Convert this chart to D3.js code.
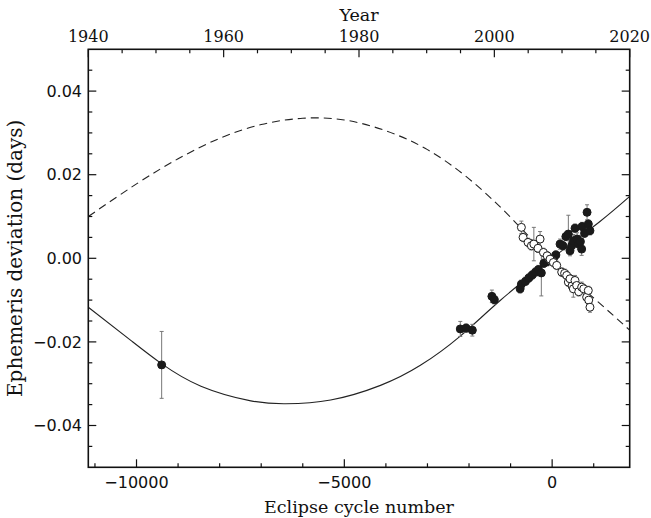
<!DOCTYPE html>
<html>
<head>
<meta charset="utf-8">
<script src="https://cdn.jsdelivr.net/npm/d3@7"></script>
<style>
  html, body { margin: 0; padding: 0; background: #fff; }
  svg { display: block; }
</style>
</head>
<body>
<svg id="chart" width="651" height="518"></svg>
<script>
// ---------------- data ----------------
const xDomain = [-11160, 1866];          // eclipse cycle number
const yDomain = [-0.05, 0.05];           // ephemeris deviation (days)
const yearDomain = [1940, 2020];

const xTickValues = [-10000, -5000, 0];
const xTickLabels = ["\u221210000", "\u22125000", "0"];
const yTickValues = [-0.04, -0.02, 0.00, 0.02, 0.04];
const yTickLabels = ["\u22120.04", "\u22120.02", "0.00", "0.02", "0.04"];
const yearTickValues = [1940, 1960, 1980, 2000, 2020];

// solid model curve (cycle, days)
const solidCycle = [-11160, -10130, -9400, -8450, -7250, -6410, -5330, -4130, -3170, -2210, -1250, 0, 1150, 1866];
const solidDev   = [-0.0117, -0.0197, -0.0252, -0.0306, -0.0341, -0.0348, -0.0339, -0.0304, -0.0256, -0.0186, -0.0101, 0.0000, 0.0088, 0.0148];

// dashed model curve
const dashCycle = [-11160, -10000, -9000, -8000, -7000, -6000, -5000, -4000, -3000, -2000, -1000, 0, 1000, 1866];
const dashDev   = [0.0100, 0.0178, 0.0238, 0.0287, 0.0320, 0.0335, 0.0331, 0.0305, 0.0260, 0.0190, 0.0098, -0.0005, -0.0095, -0.0172];

// filled points: cycle, deviation, error
const filledCycle = [-9395, -2210, -2070, -1920, -1450, -1390, -770, -740, -640, -560, -480, -400, -330, -260, -200, -120, -40, 40, 90, 190, 260, 330, 390, 430, 470, 510, 550, 600, 640, 680, 710, 720, 780, 840, 870, 910];
const filledDev   = [-0.0255, -0.0169, -0.0167, -0.0172, -0.0091, -0.0099, -0.0073, -0.0062, -0.0055, -0.0047, -0.0040, -0.0033, -0.0027, -0.0035, -0.0012, -0.0008, -0.0002, 0.0002, 0.0008, 0.0034, 0.0030, 0.0052, 0.0058, 0.0018, 0.0030, 0.0042, 0.0072, 0.0046, 0.0034, 0.0040, 0.0022, 0.0076, 0.0060, 0.0110, 0.0082, 0.0066];
const filledErr   = [0.0080, 0.0018, 0.0010, 0.0014, 0.0015, 0.0010, 0.0010, 0.0010, 0.0010, 0.0010, 0.0010, 0.0010, 0.0010, 0.0055, 0.0010, 0.0010, 0.0010, 0.0010, 0.0010, 0.0012, 0.0010, 0.0010, 0.0045, 0.0012, 0.0010, 0.0015, 0.0010, 0.0015, 0.0012, 0.0015, 0.0015, 0.0010, 0.0010, 0.0018, 0.0010, 0.0010];

// open points
const openCycle = [-740, -700, -580, -500, -440, -340, -290, -210, -120, -50, 30, 110, 230, 300, 350, 390, 430, 480, 510, 550, 590, 640, 710, 760, 830, 870, 880, 910];
const openDev   = [0.0074, 0.0050, 0.0038, 0.0030, 0.0034, 0.0024, 0.0046, 0.0014, 0.0006, -0.0002, -0.0010, -0.0017, -0.0033, -0.0036, -0.0041, -0.0057, -0.0049, -0.0066, -0.0073, -0.0053, -0.0065, -0.0080, -0.0069, -0.0073, -0.0093, -0.0077, -0.0100, -0.0117];
const openErr   = [0.0015, 0.0010, 0.0010, 0.0010, 0.0040, 0.0010, 0.0018, 0.0010, 0.0010, 0.0010, 0.0010, 0.0010, 0.0010, 0.0010, 0.0010, 0.0010, 0.0010, 0.0010, 0.0020, 0.0012, 0.0010, 0.0010, 0.0012, 0.0010, 0.0012, 0.0010, 0.0010, 0.0012];

// ---------------- layout ----------------
const L = 88.3, R = 629.7, T = 49.3, B = 467.3;
const svg = d3.select("#chart");
const numFont = "'DejaVu Sans', sans-serif";
const titleFont = "'DejaVu Serif', serif";

const x = d3.scaleLinear().domain(xDomain).range([L, R]);
const xYear = d3.scaleLinear().domain(yearDomain).range([L, R]);
const y = d3.scaleLinear().domain(yDomain).range([B, T]);

const plot = svg.append("g");

// curves
const solid = solidCycle.map((c, i) => [c, solidDev[i]]);
const dashed = dashCycle.map((c, i) => [c, dashDev[i]]);
const line = d3.line().x(d => x(d[0])).y(d => y(d[1])).curve(d3.curveNatural);

plot.append("path").attr("d", line(solid))
  .attr("fill", "none").attr("stroke", "#222").attr("stroke-width", 1.1);
plot.append("path").attr("d", line(dashed))
  .attr("fill", "none").attr("stroke", "#222").attr("stroke-width", 1.1)
  .attr("stroke-dasharray", "8,5");

function drawPoints(cyc, dev, err, filled) {
  const data = cyc.map((c, i) => ({c, v: dev[i], e: err[i]}));
  const g = plot.append("g");
  const eb = g.append("g").attr("stroke", "#777").attr("stroke-width", 1);
  data.forEach(d => {
    eb.append("line").attr("x1", x(d.c)).attr("x2", x(d.c))
      .attr("y1", y(d.v - d.e)).attr("y2", y(d.v + d.e));
    [d.v - d.e, d.v + d.e].forEach(v => {
      eb.append("line").attr("x1", x(d.c) - 2).attr("x2", x(d.c) + 2)
        .attr("y1", y(v)).attr("y2", y(v));
    });
  });
  g.selectAll("circle").data(data).join("circle")
    .attr("cx", d => x(d.c)).attr("cy", d => y(d.v)).attr("r", 4)
    .attr("fill", filled ? "#1a1a1a" : "#fff")
    .attr("stroke", "#1a1a1a").attr("stroke-width", 1);
}
drawPoints(filledCycle, filledDev, filledErr, true);
drawPoints(openCycle, openDev, openErr, false);

// ---------------- axes (ticks inward) ----------------
const ax = svg.append("g").attr("stroke", "#111").attr("stroke-width", 1.2);
function tickLine(x1, y1, x2, y2) {
  ax.append("line").attr("x1", x1).attr("y1", y1).attr("x2", x2).attr("y2", y2);
}
const MAJ = 8, MIN = 4;
// bottom: cycles
d3.range(-11000, 1867, 1000).forEach(v => {
  const len = (v % 5000 === 0) ? MAJ : MIN;
  tickLine(x(v), B, x(v), B - len);
});
// top: years
d3.range(1940, 2021, 5).forEach(v => {
  const len = (v % 20 === 0) ? MAJ : MIN;
  tickLine(xYear(v), T, xYear(v), T + len);
});
// left/right: deviation
d3.range(-0.045, 0.0451, 0.005).forEach(v => {
  const vv = Math.round(v * 1000) / 1000;
  const major = Math.abs(Math.round(vv * 1000) % 20) === 0;
  const len = major ? MAJ : MIN;
  tickLine(L, y(vv), L + len, y(vv));
  tickLine(R, y(vv), R - len, y(vv));
});
// frame
svg.append("rect").attr("x", L).attr("y", T).attr("width", R - L).attr("height", B - T)
  .attr("fill", "none").attr("stroke", "#111").attr("stroke-width", 1.6);

// tick labels
const txt = svg.append("g").attr("fill", "#111");
xTickValues.forEach((v, i) => {
  txt.append("text").attr("x", x(v)).attr("y", 487.5).attr("text-anchor", "middle")
    .attr("font-family", numFont).attr("font-size", 16).text(xTickLabels[i]);
});
yearTickValues.forEach(v => {
  txt.append("text").attr("x", xYear(v)).attr("y", 42).attr("text-anchor", "middle")
    .attr("font-family", titleFont).attr("font-size", 16).text(v);
});
yTickValues.forEach((v, i) => {
  txt.append("text").attr("x", 82).attr("y", y(v)).attr("dy", "0.36em").attr("text-anchor", "end")
    .attr("font-family", numFont).attr("font-size", 16).text(yTickLabels[i]);
});

// titles
txt.append("text").attr("x", (L + R) / 2).attr("y", 513).attr("text-anchor", "middle")
  .attr("font-family", titleFont).attr("font-size", 17.5).text("Eclipse cycle number");
txt.append("text").attr("x", (L + R) / 2).attr("y", 21).attr("text-anchor", "middle")
  .attr("font-family", titleFont).attr("font-size", 17.5).text("Year");
txt.append("text").attr("transform", `translate(22,${(T + B) / 2}) rotate(-90)`)
  .attr("text-anchor", "middle")
  .attr("font-family", titleFont).attr("font-size", 20).text("Ephemeris deviation (days)");
</script>
</body>
</html>
